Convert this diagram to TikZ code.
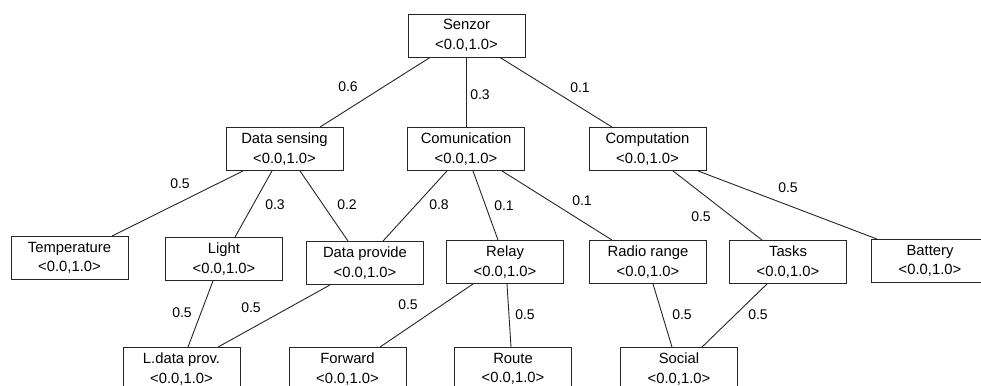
\documentclass[tikz,border=0pt]{standalone}
\usepackage{fontspec}
\setmainfont{Liberation Sans}
\usepackage{tikz}

\begin{document}
\begin{tikzpicture}[x=1pt, y=-1pt, line width=0.9pt, draw=black!85,
    crit/.style={draw, fill=white, minimum width=117pt, minimum height=43pt, inner sep=0pt,
        align=center, font=\fontsize{14.8}{19.5}\selectfont},
    wt/.style={font=\fontsize{14}{16}\selectfont, inner sep=1pt}]
    \clip (0,0) rectangle (981,385);
    \fill[white] (0,0) rectangle (981,385);

    % top level
    \node[crit] (senzor) at (466.5,35.5) {Senzor\\<0.0,1.0>};

    % second level
    \node[crit] (dsens) at (284.5,149) {Data sensing\\<0.0,1.0>};
    \node[crit] (comm) at (466,149) {Comunication\\<0.0,1.0>};
    \node[crit] (comp) at (647.5,149) {Computation\\<0.0,1.0>};

    % third level
    \node[crit] (temp) at (69.5,258) {Temperature\\<0.0,1.0>};
    \node[crit] (light) at (224,259) {Light\\<0.0,1.0>};
    \node[crit] (dprov) at (365,263) {Data provide\\<0.0,1.0>};
    \node[crit] (relay) at (505,262) {Relay\\<0.0,1.0>};
    \node[crit] (radio) at (648,262) {Radio range\\<0.0,1.0>};
    \node[crit] (tasks) at (788,262) {Tasks\\<0.0,1.0>};
    \node[crit] (batt) at (930,261) {Battery\\<0.0,1.0>};

    % bottom level
    \node[crit] (ldprov) at (181.5,369) {L.data prov.\\<0.0,1.0>};
    \node[crit] (fwd) at (347.5,369) {Forward\\<0.0,1.0>};
    \node[crit] (route) at (513,369) {Route\\<0.0,1.0>};
    \node[crit] (social) at (679,369) {Social\\<0.0,1.0>};

    % connectors
    \draw ([xshift=-36.5pt]senzor.south) -- ([xshift=35.5pt]dsens.north);
    \draw ([xshift=-0.5pt]senzor.south) -- (comm.north);
    \draw ([xshift=33.5pt]senzor.south) -- ([xshift=-35.5pt]comp.north);

    \draw ([xshift=-41.5pt]dsens.south) -- ([xshift=42.5pt]temp.north);
    \draw ([xshift=-12.5pt]dsens.south) -- ([xshift=11pt]light.north);
    \draw ([xshift=15.5pt]dsens.south) -- ([xshift=-17pt]dprov.north);
    \draw ([xshift=-19pt]comm.south) -- ([xshift=18pt]dprov.north);
    \draw ([xshift=7pt]comm.south) -- ([xshift=-7pt]relay.north);
    \draw ([xshift=36pt]comm.south) -- ([xshift=-36pt]radio.north);
    \draw ([xshift=25.5pt]comp.south) -- ([xshift=-26pt]tasks.north);
    \draw ([xshift=50.5pt]comp.south) -- ([xshift=-53pt]batt.north);

    \draw ([xshift=-11pt]light.south) -- ([xshift=6.5pt]ldprov.north);
    \draw ([xshift=-35pt]dprov.south) -- ([xshift=36.5pt]ldprov.north);
    \draw ([xshift=-32pt]relay.south) -- ([xshift=32.5pt]fwd.north);
    \draw ([xshift=2pt]relay.south) -- ([xshift=-2pt]route.north);
    \draw ([xshift=5pt]radio.south) -- ([xshift=-7pt]social.north);
    \draw ([xshift=-21pt]tasks.south) -- ([xshift=23pt]social.north);

    % weights
    \node[wt] (w1) at (348,87) {0.6};
    \node[wt] (w2) at (480,95) {0.3};
    \node[wt] (w3) at (580,88) {0.1};
    \node[wt] (w4) at (180,184) {0.5};
    \node[wt] (w5) at (275,205) {0.3};
    \node[wt] (w6) at (347,205) {0.2};
    \node[wt] (w7) at (439,205) {0.8};
    \node[wt] (w8) at (504,206) {0.1};
    \node[wt] (w9) at (582,201) {0.1};
    \node[wt] (w10) at (701,217) {0.5};
    \node[wt] (w11) at (788,188) {0.5};
    \node[wt] (w12) at (182,313) {0.5};
    \node[wt] (w13) at (251,308) {0.5};
    \node[wt] (w14) at (408,305) {0.5};
    \node[wt] (w15) at (525,315) {0.5};
    \node[wt] (w16) at (682,315) {0.5};
    \node[wt] (w17) at (758,315) {0.5};
\end{tikzpicture}
\end{document}
